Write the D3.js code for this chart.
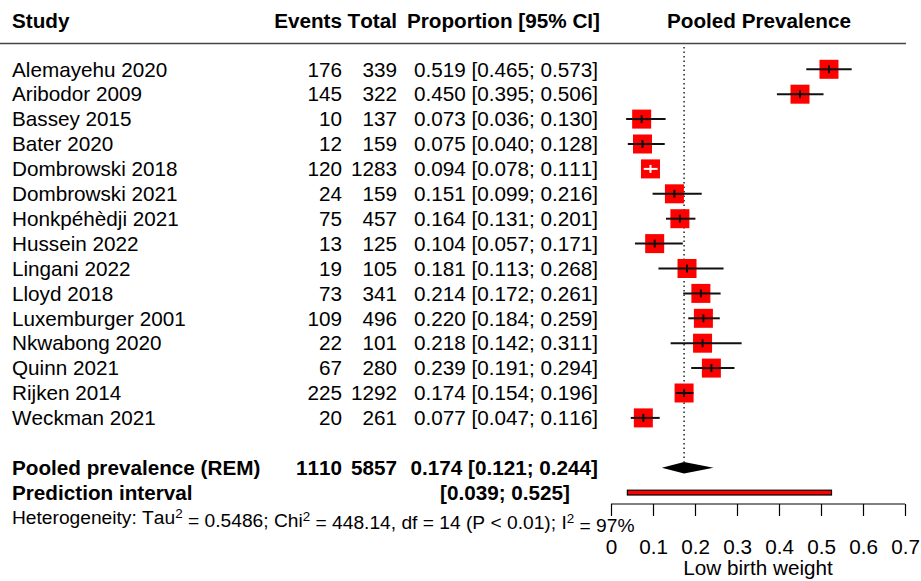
<!DOCTYPE html>
<html>
<head>
<meta charset="utf-8">
<script src="https://cdn.jsdelivr.net/npm/d3@7"></script>
<style>
  html, body { margin: 0; padding: 0; background: #fff; }
  svg { display: block; font-family: "Liberation Sans", Arial, sans-serif; font-kerning: none; }
</style>
</head>
<body>
<svg id="chart" width="921" height="581"></svg>
<script>
// ---- data ----
const studies = ["Alemayehu 2020","Aribodor 2009","Bassey 2015","Bater 2020","Dombrowski 2018",
  "Dombrowski 2021","Honkpéhèdji 2021","Hussein 2022","Lingani 2022","Lloyd 2018",
  "Luxemburger 2001","Nkwabong 2020","Quinn 2021","Rijken 2014","Weckman 2021"];
const events = [176,145,10,12,120,24,75,13,19,73,109,22,67,225,20];
const totals = [339,322,137,159,1283,159,457,125,105,341,496,101,280,1292,261];
const props  = [0.519,0.450,0.073,0.075,0.094,0.151,0.164,0.104,0.181,0.214,0.220,0.218,0.239,0.174,0.077];
const lowers = [0.465,0.395,0.036,0.040,0.078,0.099,0.131,0.057,0.113,0.172,0.184,0.142,0.191,0.154,0.047];
const uppers = [0.573,0.506,0.130,0.128,0.111,0.216,0.201,0.171,0.268,0.261,0.259,0.311,0.294,0.196,0.116];
const pooledEvents = 1110, pooledTotal = 5857;
const pooled = [0.174, 0.121, 0.244];     // estimate, lower, upper
const predInterval = [0.039, 0.525];
const axisTicks = [0, 0.1, 0.2, 0.3, 0.4, 0.5, 0.6, 0.7];
const headers = ["Study", "Events", "Total", "Proportion [95% CI]", "Pooled Prevalence"];
const xLabel = "Low birth weight";

// ---- layout ----
const svg = d3.select("#chart");
const FS = 20.7;
const x = d3.scaleLinear().domain([0, 0.7]).range([611, 905]);
const rowY = d3.scaleLinear().domain([0, 1]).range([69.3, 94.2]); // row index -> y center
const fmt = d3.format(".3f");
const colStudy = 12, colEvents = 342, colTotal = 397, colProp = 598;

// header
const hdr = svg.append("g").attr("font-weight", "bold").attr("font-size", FS);
hdr.append("text").attr("x", colStudy).attr("y", 20.5).attr("dy", "0.35em").text(headers[0]);
hdr.append("text").attr("x", colEvents).attr("y", 20.5).attr("dy", "0.35em").attr("text-anchor", "end").text(headers[1]);
hdr.append("text").attr("x", colTotal).attr("y", 20.5).attr("dy", "0.35em").attr("text-anchor", "end").text(headers[2]);
hdr.append("text").attr("x", 600).attr("y", 20.5).attr("dy", "0.35em").attr("text-anchor", "end").text(headers[3]);
hdr.append("text").attr("x", x(0.35) + 1).attr("y", 20.5).attr("dy", "0.35em").attr("text-anchor", "middle").text(headers[4]);
svg.append("line").attr("x1", 0).attr("x2", 906).attr("y1", 43.5).attr("y2", 43.5)
  .attr("stroke", "#444").attr("stroke-width", 1.5);

// study rows text
const rows = svg.append("g").attr("font-size", FS);
studies.forEach((s, i) => {
  const y = rowY(i);
  rows.append("text").attr("x", colStudy).attr("y", y).attr("dy", "0.35em").text(s);
  rows.append("text").attr("x", colEvents).attr("y", y).attr("dy", "0.35em").attr("text-anchor", "end").text(events[i]);
  rows.append("text").attr("x", colTotal).attr("y", y).attr("dy", "0.35em").attr("text-anchor", "end").text(totals[i]);
  rows.append("text").attr("x", colProp).attr("y", y).attr("dy", "0.35em").attr("text-anchor", "end")
    .text(`${fmt(props[i])} [${fmt(lowers[i])}; ${fmt(uppers[i])}]`);
});

// pooled rows text
const yPool = rowY(16), yPred = rowY(17), yHet = rowY(18);
const pg = svg.append("g").attr("font-size", FS).attr("font-weight", "bold");
pg.append("text").attr("x", colStudy).attr("y", yPool).attr("dy", "0.35em").text("Pooled prevalence (REM)");
pg.append("text").attr("x", colEvents).attr("y", yPool).attr("dy", "0.35em").attr("text-anchor", "end").text(pooledEvents);
pg.append("text").attr("x", colTotal).attr("y", yPool).attr("dy", "0.35em").attr("text-anchor", "end").text(pooledTotal);
pg.append("text").attr("x", colProp).attr("y", yPool).attr("dy", "0.35em").attr("text-anchor", "end")
  .text(`${fmt(pooled[0])} [${fmt(pooled[1])}; ${fmt(pooled[2])}]`);
pg.append("text").attr("x", colStudy).attr("y", yPred).attr("dy", "0.35em").text("Prediction interval");
pg.append("text").attr("x", 570).attr("y", yPred).attr("dy", "0.35em").attr("text-anchor", "end")
  .text(`[${fmt(predInterval[0])}; ${fmt(predInterval[1])}]`);

// heterogeneity
const het = svg.append("text").attr("x", colStudy).attr("y", yHet).attr("dy", "0.35em").attr("font-size", 19.2);
het.append("tspan").text("Heterogeneity: Tau");
het.append("tspan").attr("dy", "-0.45em").attr("font-size", "0.7em").text("2");
het.append("tspan").attr("dy", "0.45em").text(" = 0.5486; Chi");
het.append("tspan").attr("dy", "-0.45em").attr("font-size", "0.7em").text("2");
het.append("tspan").attr("dy", "0.45em").text(" = 448.14, df = 14 (P < 0.01); I");
het.append("tspan").attr("dy", "-0.45em").attr("font-size", "0.7em").text("2");
het.append("tspan").attr("dy", "0.45em").text(" = 97%");

// reference dotted line
svg.append("line").attr("x1", x(pooled[0])).attr("x2", x(pooled[0]))
  .attr("y1", 47).attr("y2", yPool - 6)
  .attr("stroke", "#000").attr("stroke-width", 1.3).attr("stroke-dasharray", "1.5,3");

// study markers
const BOX = 19;
const marks = svg.append("g");
studies.forEach((s, i) => {
  const y = rowY(i);
  const cx = x(props[i]);
  const ciW = x(uppers[i]) - x(lowers[i]);
  const inside = ciW < BOX - 4;
  if (!inside) {
    marks.append("line").attr("x1", x(lowers[i])).attr("x2", x(uppers[i])).attr("y1", y).attr("y2", y)
      .attr("stroke", "#111").attr("stroke-width", 2);
  }
  marks.append("rect").attr("x", cx - BOX / 2).attr("y", y - BOX / 2).attr("width", BOX).attr("height", BOX)
    .attr("fill", "#f00");
  const c = inside ? "#fff" : "#111";
  marks.append("line").attr("x1", Math.max(x(lowers[i]), cx - BOX / 2)).attr("x2", Math.min(x(uppers[i]), cx + BOX / 2))
    .attr("y1", y).attr("y2", y).attr("stroke", c).attr("stroke-width", 2);
  marks.append("line").attr("x1", cx).attr("x2", cx).attr("y1", y - 4).attr("y2", y + 4)
    .attr("stroke", c).attr("stroke-width", 2);
});

// diamond
const dh = 5.7;
svg.append("path")
  .attr("d", `M${x(pooled[1])},${yPool} L${x(pooled[0])},${yPool - dh} L${x(pooled[2])},${yPool} L${x(pooled[0])},${yPool + dh} Z`)
  .attr("fill", "#000");

// prediction interval bar
svg.append("rect").attr("x", x(predInterval[0])).attr("y", yPred - 2.4)
  .attr("width", x(predInterval[1]) - x(predInterval[0])).attr("height", 4.8)
  .attr("fill", "#f00").attr("stroke", "#000").attr("stroke-width", 1.2);

// axis
const axisY = 504;
const ax = svg.append("g").attr("transform", `translate(0,${axisY})`)
  .call(d3.axisBottom(x).tickValues(axisTicks).tickFormat(d3.format("")).tickSize(12).tickPadding(23));
ax.select(".domain").attr("stroke", "#000").attr("stroke-width", 1.2).attr("d", `M${x(0)},0H${x(0.7)}`);
ax.selectAll(".tick line").attr("stroke", "#000").attr("stroke-width", 1.2);
ax.selectAll(".tick text").attr("font-size", FS).attr("fill", "#000")
  .attr("font-family", "'Liberation Sans', Arial, sans-serif");
svg.append("text").attr("x", x(0.35)).attr("y", 568).attr("dy", "0.35em").attr("text-anchor", "middle")
  .attr("font-size", FS).text(xLabel);
</script>
</body>
</html>
